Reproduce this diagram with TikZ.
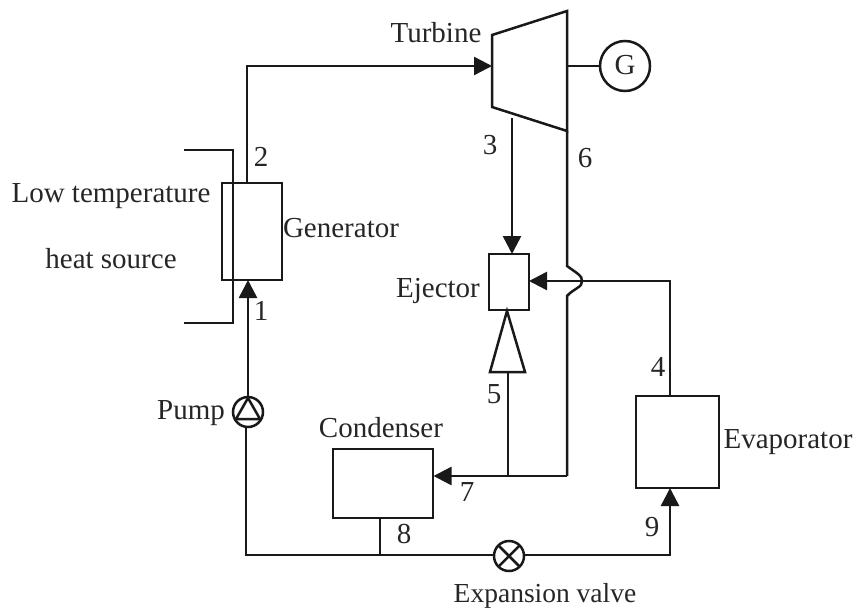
\documentclass[tikz,border=0pt]{standalone}
\usepackage{fontspec}
\setmainfont{Liberation Serif}
\usetikzlibrary{arrows.meta}
\tikzset{
  x=1pt,y=-1pt,
  pipe/.style={line width=2.5pt,line join=miter,color=black!90},
  flow/.style={pipe,-{Triangle[length=18pt,width=18pt]},shorten >=0pt},
  box/.style={draw=black!90,line width=2.5pt,minimum width=#1,inner sep=0pt,outer sep=0pt,fill=none},
  disc/.style={draw=black!90,circle,line width=2.5pt,minimum size=#1,inner sep=0pt,outer sep=0pt},
  lbl/.style={inner sep=0pt,outer sep=0pt,font=\fontsize{29}{31}\selectfont,text=black!85},
}
\begin{document}
\begin{tikzpicture}
\useasboundingbox (0,0) rectangle (858,610);
% components
\node[box=60pt,minimum height=97pt] (gen) at (252,231.5) {};
\node[box=40pt,minimum height=56pt] (ejector) at (509,282) {};
\node[box=100pt,minimum height=69pt] (cond) at (383,483.5) {};
\node[box=83pt,minimum height=92pt] (evap) at (677.5,442) {};
\node[disc=50pt] (gcirc) at (625,66) {};
\node[disc=30pt] (pump) at (248,412) {};
\node[disc=30pt] (valve) at (509,556) {};
% turbine
\coordinate (t1) at (492,35); \coordinate (t2) at (567,11);
\coordinate (t3) at (567,131); \coordinate (t4) at (492,107);
\draw[pipe] (t1) -- (t2) -- (t3) -- (t4) -- cycle;
% nozzle
\coordinate (n1) at (507,311); \coordinate (n2) at (525,372); \coordinate (n3) at (490,372);
\draw[pipe] (n1) -- (n2) -- (n3) -- cycle;
% pump triangle
\coordinate (p1) at (248,398); \coordinate (p2) at (260,419); \coordinate (p3) at (236,419);
\draw[pipe] (p1) -- (p2) -- (p3) -- cycle;
% valve cross
\draw[pipe] (valve.north west) -- (valve.south east);
\draw[pipe] (valve.north east) -- (valve.south west);
% heat source
\coordinate (h1) at (184,150); \coordinate (h2) at (233,150);
\coordinate (h3) at (233,323); \coordinate (h4) at (184,323);
\draw[pipe] (h1) -- (h2) -- (h3) -- (h4);
% routing points
\coordinate (g2) at (247,183);
\coordinate (c1) at (247,66);
\coordinate (tin) at (t1 |- c1);
\coordinate (g1) at (248,280);
\coordinate (c2) at (246,555);
\coordinate (c8t) at (380,518);
\coordinate (c8b) at (380,555);
\coordinate (c9) at (670,555);
\coordinate (ev9) at (670,488);
\coordinate (ev4) at (670,396);
\coordinate (c4) at (670,281);
\coordinate (ej4) at (529,281);
\coordinate (s3) at (512,118);
\coordinate (ej3) at (512,254);
\coordinate (n5) at (508,372);
\coordinate (j5) at (508,476);
\coordinate (s6) at (567,131);
\coordinate (b1) at (567,266);
\coordinate (b2) at (567,296);
\coordinate (j6) at (567,476);
\coordinate (c7) at (433.5,476);
% connectors
\draw[flow] (g2) -- (c1) -- (tin);
\draw[flow] (pump.north -| g1) -- (g1);
\draw[pipe] (pump.south -| c2) -- (c2) -- (valve.west |- c2);
\draw[pipe] (c8t) -- (c8b);
\draw[flow] (valve.east |- c9) -- (c9) -- (ev9);
\draw[flow] (ev4) -- (c4) -- (ej4);
\draw[flow] (s3) -- (ej3);
\draw[pipe] (n5) -- (j5);
\draw[pipe] (s6) -- (b1) .. controls (575,272) and (583,276) .. (582,281) .. controls (583,287) and (573,289) .. (b2) -- (j6);
\draw[flow] (j6) -- (c7);
\draw[pipe] (gcirc.west) -- (t2 |- gcirc.west);
% labels
\node[lbl] (lt) at (436,33) {Turbine};
\node[lbl] (lg) at (625,65) {G};
\node[lbl] (l2) at (261,157) {2};
\node[lbl] (ls1) at (111,196) {Low temperature};
\node[lbl] (ls2) at (111,259) {heat source};
\node[lbl] (lgen) at (341,228) {Generator};
\node[lbl] (l1) at (261,311) {1};
\node[lbl] (lp) at (191,413) {Pump};
\node[lbl] (l3) at (490,145) {3};
\node[lbl] (l6) at (585,158) {6};
\node[lbl] (lej) at (438,291) {Ejector};
\node[lbl] (l5) at (494,394) {5};
\node[lbl] (l4) at (658,367) {4};
\node[lbl] (lc) at (381,428) {Condenser};
\node[lbl] (le) at (788,442) {Evaporator};
\node[lbl] (l7) at (467,492) {7};
\node[lbl] (l8) at (404,534) {8};
\node[lbl] (l9) at (652,527) {9};
\node[lbl,font=\fontsize{27.5}{30}\selectfont] (lv) at (545,596) {Expansion valve};
\end{tikzpicture}
\end{document}
